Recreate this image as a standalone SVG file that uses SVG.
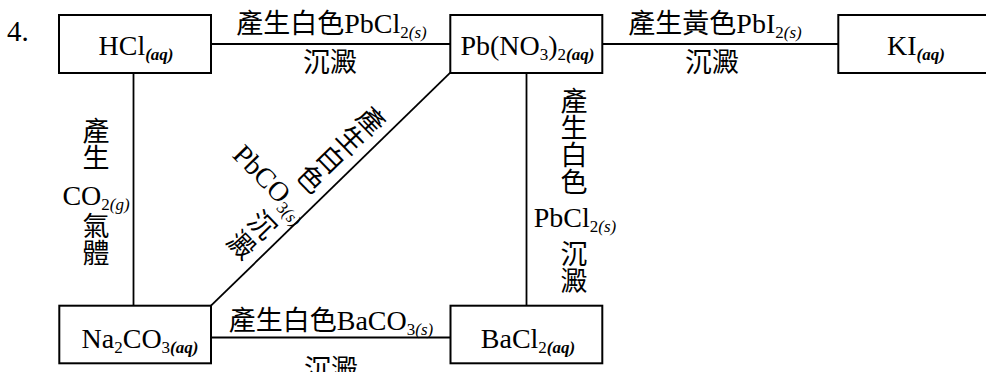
<svg xmlns="http://www.w3.org/2000/svg" width="986" height="372" viewBox="0 0 986 372">
<style>
.box{fill:#fff;stroke:#000;stroke-width:2}
.ln{stroke:#000;stroke-width:1.8;fill:none}
.t{font-family:"Liberation Serif","Times New Roman",serif;font-size:28px;fill:#000}
.cj{font-family:"Noto Sans CJK TC","Noto Sans CJK SC",sans-serif;font-size:27px}
.v{font-family:"Noto Sans CJK TC","Noto Sans CJK SC",sans-serif;font-size:27px;writing-mode:vertical-rl;fill:#000}
.sub{font-size:17px}
.bi{font-weight:bold;font-style:italic}
.i{font-style:italic}
.m{text-anchor:middle}
</style>
<rect width="986" height="372" fill="#fff"/>
<text class="t" x="7" y="41" style="font-size:29px">4.</text>

<g id="connectors">
  <line class="ln" x1="211" y1="44" x2="450" y2="44"/>
  <line class="ln" x1="602" y1="44" x2="838" y2="44"/>
  <line class="ln" x1="133.5" y1="73" x2="133.5" y2="306"/>
  <line class="ln" x1="526.5" y1="73" x2="526.5" y2="306"/>
  <line class="ln" x1="450.3" y1="72.7" x2="211" y2="305.7"/>
  <line class="ln" x1="211" y1="337.5" x2="450.5" y2="337.5"/>
</g>

<g id="labels">
  <text class="t m" x="331.5" y="33"><tspan class="cj">產生白色</tspan>PbCl<tspan class="sub" dy="5">2</tspan><tspan class="sub i">(s)</tspan></text>
  <text class="t m cj" x="330" y="72">沉澱</text>
  <text class="t m" x="715" y="33"><tspan class="cj">產生黃色</tspan>PbI<tspan class="sub" dy="5">2</tspan><tspan class="sub i">(s)</tspan></text>
  <text class="t m cj" x="712" y="72">沉澱</text>
  <text class="t m" x="331" y="330"><tspan class="cj">產生白色</tspan>BaCO<tspan class="sub" dy="5">3</tspan><tspan class="sub i">(s)</tspan></text>
  <text class="t m cj" x="331" y="379">沉澱</text>

  <g id="label-left">
    <text class="v" x="96" y="117">產生</text>
    <text class="t m" x="96" y="205">CO<tspan class="sub" dy="5">2</tspan><tspan class="sub i">(g)</tspan></text>
    <text class="v" x="96" y="212">氣體</text>
  </g>

  <g id="label-right">
    <text class="v" x="574" y="87">產生白色</text>
    <text class="t m" x="575" y="227">PbCl<tspan class="sub" dy="5">2</tspan><tspan class="sub i">(s)</tspan></text>
    <text class="v" x="574" y="240">沉澱</text>
  </g>

  <g id="label-diagonal" transform="translate(450.3,72.7) rotate(45.8)">
    <text class="v" x="-21" y="76" style="letter-spacing:1px">產生白色</text>
    <text class="t" x="-93" y="215">PbCO<tspan class="sub" dy="5">3</tspan><tspan class="sub i">(s)</tspan></text>
    <text class="v" x="-22" y="227" style="letter-spacing:2px">沉澱</text>
  </g>
</g>

<g id="node-hcl">
  <rect class="box" x="59" y="15" width="152" height="58"/>
  <text class="t m" x="136" y="54.5">HCl<tspan class="sub bi" dy="5">(aq)</tspan></text>
</g>
<g id="node-pbno3">
  <rect class="box" x="450.3" y="15" width="152" height="58"/>
  <text class="t m" x="527.4" y="54.5">Pb(NO<tspan class="sub" dy="5">3</tspan><tspan dy="-5">)</tspan><tspan class="sub" dy="5">2</tspan><tspan class="sub bi">(aq)</tspan></text>
</g>
<g id="node-ki">
  <rect class="box" x="838.3" y="15" width="160" height="58"/>
  <text class="t m" x="916" y="54.5">KI<tspan class="sub bi" dy="5">(aq)</tspan></text>
</g>
<g id="node-na2co3">
  <rect class="box" x="59.3" y="305.7" width="151.7" height="57.6"/>
  <text class="t m" x="140" y="348">Na<tspan class="sub" dy="5">2</tspan><tspan dy="-5">CO</tspan><tspan class="sub" dy="5">3</tspan><tspan class="sub bi">(aq)</tspan></text>
</g>
<g id="node-bacl2">
  <rect class="box" x="450.5" y="305.7" width="151.8" height="57.6"/>
  <text class="t m" x="528" y="348">BaCl<tspan class="sub" dy="5">2</tspan><tspan class="sub bi">(aq)</tspan></text>
</g>
</svg>
